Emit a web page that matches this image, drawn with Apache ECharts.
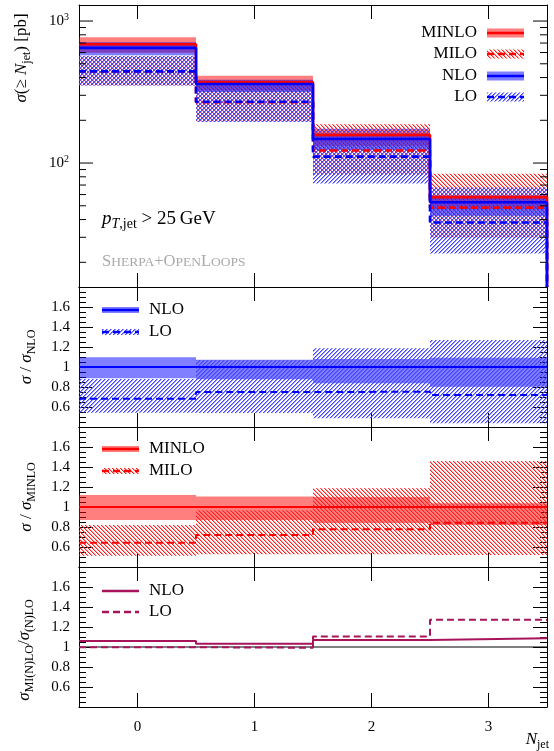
<!DOCTYPE html>
<html><head><meta charset="utf-8">
<script src="https://cdn.jsdelivr.net/npm/echarts@6/dist/echarts.min.js"></script>
<style>html,body{margin:0;padding:0;background:#fff}#c{width:554px;height:751px}</style>
</head><body><div id="c"></div>
<script>
// ---- data ----
const bins = [0, 1, 2, 3];
const binLabels = ['0', '1', '2', '3'];
const NLO      = [647, 360, 147.5, 52.9];
const NLO_up   = [710, 386, 159.3, 57.8];
const NLO_dn   = [574, 316, 123.5, 42.5];
const LO       = [442, 270, 111, 38.1];
const LO_up    = [569, 385, 175, 67.2];
const LO_dn    = [351, 194.4, 71.8, 23.1];
const MINLO    = [686, 372, 157.8, 57.5];
const MINLO_up = [768, 411, 173.6, 59.6];
const MINLO_dn = [597, 324, 132.6, 47.2];
const MILO     = [441, 268, 122.6, 48.5];
const MILO_up  = [562.5, 359.7, 187.3, 84];
const MILO_dn  = [352, 196, 83.2, 29.9];
const logMajor = [100, 1000];
const logMinor = [20, 30, 40, 50, 60, 70, 80, 90, 200, 300, 400, 500, 600, 700, 800, 900];
const ratioTicks = [0.6, 0.8, 1, 1.2, 1.4, 1.6];

// ---- helpers ----
const FONT = 'Liberation Serif';
const RED = '#ff0000', BLUE = '#0000ff', CRIM = '#a8145c';
const div = (a, b) => a.map((v, i) => v / b[i]);

function hatch(rgb, dir, a2) {
  const s = 4;
  const c = document.createElement('canvas'); c.width = s; c.height = s;
  const g = c.getContext('2d');
  for (let i = 0; i < s; i++) {
    const y = dir > 0 ? s - 1 - i : i;
    g.fillStyle = 'rgba(' + rgb + ',1)';
    g.fillRect(i, y, 1, 1);
    g.fillStyle = 'rgba(' + rgb + ',' + a2 + ')';
    g.fillRect((i + 1) % s, y, 1, 1);
  }
  return { image: c, repeat: 'repeat' };
}
const HATCH_BLUE = hatch('70,70,255', 1, 0.55);
const HATCH_RED = hatch('255,30,30', -1, 0.4);
const BAND_BLUE = 'rgba(0,0,255,0.5)';
const BAND_RED = 'rgba(255,0,0,0.5)';

function bandSeries(g, lo, hi, fill, z) {
  return {
    type: 'custom', xAxisIndex: 2 * g, yAxisIndex: 2 * g, z: z, silent: true, clip: true,
    data: bins.map((b, i) => [b, lo[i], hi[i]]),
    encode: { x: 0, y: [1, 2] },
    renderItem: (params, api) => {
      const x = api.value(0);
      const p0 = api.coord([x - 0.5, api.value(2)]);
      const p1 = api.coord([x + 0.5, api.value(1)]);
      return { type: 'rect', shape: { x: p0[0], y: p0[1], width: p1[0] - p0[0], height: p1[1] - p0[1] }, style: { fill: fill } };
    }
  };
}
function stepSeries(g, vals, color, width, dashed, z, dropTo) {
  const d = bins.map((b, i) => [b - 0.5, vals[i]]);
  d.push([bins[bins.length - 1] + 0.5, vals[vals.length - 1]]);
  if (dropTo != null) d.push([bins[bins.length - 1] + 0.5, dropTo]);
  return {
    type: 'line', step: 'end', xAxisIndex: 2 * g, yAxisIndex: 2 * g, data: d, symbol: 'none', silent: true, z: z,
    lineStyle: { color: color, width: width, type: dashed ? [7, 4] : 'solid', cap: 'butt' }
  };
}

const grids = [
  { left: 79, top: 5, width: 468, height: 282 },
  { left: 79, top: 287, width: 468, height: 140 },
  { left: 79, top: 427, width: 468, height: 140 },
  { left: 79, top: 567, width: 468, height: 140 }
];
const xAxes = [], yAxes = [];
grids.forEach((gr, g) => {
  ['bottom', 'top'].forEach(pos => {
    xAxes.push({
      type: 'value', gridIndex: g, min: -0.5, max: 3.5, position: pos,
      axisLine: { show: true, onZero: false, lineStyle: { color: '#000', width: 1 } },
      axisTick: { show: true, inside: true, length: 14, customValues: bins, lineStyle: { color: '#000', width: 1 } },
      axisLabel: {
        show: g === 3 && pos === 'bottom', customValues: bins, margin: 13,
        formatter: v => binLabels[bins.indexOf(Math.round(v))] || '',
        fontFamily: FONT, fontSize: 15, color: '#000'
      },
      splitLine: { show: false }, minorTick: { show: false }
    });
  });
  ['left', 'right'].forEach(pos => {
    if (g === 0) {
      yAxes.push({
        type: 'log', logBase: 10, gridIndex: g, min: 13.4, max: 1297, position: pos,
        axisLine: { show: true, onZero: false, lineStyle: { color: '#000', width: 1 } },
        axisTick: { show: false },
        axisLabel: {
          show: pos === 'left', showMinLabel: false, showMaxLabel: false, margin: 10,
          formatter: v => {
            const e = Math.log10(v);
            if (Math.abs(e - Math.round(e)) > 1e-6) return '';
            return '{b|10}{s|' + Math.round(e) + '}';
          },
          rich: {
            b: { fontFamily: FONT, fontSize: 15, color: '#000', lineHeight: 18 },
            s: { fontFamily: FONT, fontSize: 10, color: '#000', lineHeight: 10, verticalAlign: 'top' }
          }
        },
        splitLine: { show: false }
      });
    } else {
      yAxes.push({
        type: 'value', gridIndex: g, min: 0.4, max: 1.8, interval: 0.2, position: pos,
        axisLine: { show: true, onZero: false, lineStyle: { color: '#000', width: 1 } },
        axisTick: { show: true, inside: true, length: 14, lineStyle: { color: '#000', width: 1 } },
        minorTick: { show: true, splitNumber: 4, length: 7, lineStyle: { color: '#000', width: 1 } },
        axisLabel: {
          show: pos === 'left', showMinLabel: false, showMaxLabel: false, margin: 9,
          formatter: v => ratioTicks.some(t => Math.abs(t - v) < 1e-6) ? String(+v.toFixed(1)) : '',
          fontFamily: FONT, fontSize: 15, color: '#000'
        },
        splitLine: { show: false }
      });
    }
  });
});

const series = [];
// top panel
series.push(bandSeries(0, MINLO_dn, MINLO_up, BAND_RED, 1));
series.push(bandSeries(0, MILO_dn, MILO_up, HATCH_RED, 2));
series.push(bandSeries(0, NLO_dn, NLO_up, BAND_BLUE, 3));
series.push(bandSeries(0, LO_dn, LO_up, HATCH_BLUE, 4));
series.push(stepSeries(0, MINLO, RED, 2.6, false, 6, 13.4));
series.push(stepSeries(0, MILO, RED, 2.6, true, 7, 13.4));
series.push(stepSeries(0, NLO, BLUE, 2.6, false, 8, 13.4));
series.push(stepSeries(0, LO, BLUE, 2.6, true, 9, 13.4));
// log-axis ticks (major + minor) on both sides
series.push({
  type: 'custom', xAxisIndex: 0, yAxisIndex: 0, z: 20, silent: true,
  data: logMajor.map(v => [v, 14]).concat(logMinor.map(v => [v, 7])),
  encode: { y: 0 },
  renderItem: (params, api) => {
    const v = api.value(0), len = api.value(1);
    const l = api.coord([-0.5, v]), r = api.coord([3.5, v]);
    const st = { stroke: '#000', lineWidth: 1 };
    return { type: 'group', children: [
      { type: 'line', shape: { x1: l[0], y1: l[1], x2: l[0] + len, y2: l[1] }, style: st },
      { type: 'line', shape: { x1: r[0], y1: r[1], x2: r[0] - len, y2: r[1] }, style: st }
    ] };
  }
});
// ratio to NLO
series.push(bandSeries(1, div(NLO_dn, NLO), div(NLO_up, NLO), BAND_BLUE, 1));
series.push(bandSeries(1, div(LO_dn, NLO), div(LO_up, NLO), HATCH_BLUE, 2));
series.push(stepSeries(1, div(NLO, NLO), BLUE, 2, false, 6));
series.push(stepSeries(1, div(LO, NLO), BLUE, 2, true, 7));
// ratio to MINLO
series.push(bandSeries(2, div(MINLO_dn, MINLO), div(MINLO_up, MINLO), BAND_RED, 1));
series.push(bandSeries(2, div(MILO_dn, MINLO), div(MILO_up, MINLO), HATCH_RED, 2));
series.push(stepSeries(2, div(MINLO, MINLO), RED, 2, false, 6));
series.push(stepSeries(2, div(MILO, MINLO), RED, 2, true, 7));
// MI(N)LO / (N)LO
series.push({
  type: 'line', xAxisIndex: 6, yAxisIndex: 6, data: [[-0.5, 1], [3.5, 1]], symbol: 'none', silent: true, z: 3,
  lineStyle: { color: '#000', width: 1 }
});
series.push(stepSeries(3, div(MINLO, NLO), CRIM, 2, false, 6));
series.push(stepSeries(3, div(MILO, LO), CRIM, 2, true, 7));

// ---- text & legends ----
const base = { fontFamily: FONT, fontSize: 17, fill: '#000' };
const richMath = {
  i: { fontFamily: FONT, fontSize: 17, fontStyle: 'italic', lineHeight: 22 },
  n: { fontFamily: FONT, fontSize: 17, lineHeight: 22 },
  sub: { fontFamily: FONT, fontSize: 12, lineHeight: 12, verticalAlign: 'bottom' },
  subi: { fontFamily: FONT, fontSize: 12, fontStyle: 'italic', lineHeight: 12, verticalAlign: 'bottom' }
};
const richBig = {
  i: { fontFamily: FONT, fontSize: 19, fontStyle: 'italic', lineHeight: 24 },
  n: { fontFamily: FONT, fontSize: 19, lineHeight: 24 },
  sub: { fontFamily: FONT, fontSize: 14, lineHeight: 14, verticalAlign: 'bottom' },
  subi: { fontFamily: FONT, fontSize: 14, fontStyle: 'italic', lineHeight: 14, verticalAlign: 'bottom' }
};
function txt(x, y, text, opts) {
  return Object.assign({
    type: 'text', x: x, y: y, silent: true, z: 50,
    style: Object.assign({ text: text, rich: richMath, align: 'left', verticalAlign: 'middle' }, base, (opts && opts.style) || {})
  }, (opts && opts.el) || {});
}
function legendSym(x0, x1, y, color, bandFill, bandH, lineW, dashed) {
  const out = [];
  if (bandFill) out.push({ type: 'rect', silent: true, z: 50, shape: { x: x0, y: y - bandH / 2, width: x1 - x0, height: bandH }, style: { fill: bandFill } });
  out.push({ type: 'line', silent: true, z: 51, shape: { x1: x0, y1: y, x2: x1, y2: y }, style: { stroke: color, lineWidth: lineW, lineDash: dashed ? [7, 4] : null } });
  return out;
}
const rot = { rotation: Math.PI / 2 };
let graphics = [];
// top legend
const topLeg = [
  ['MINLO', RED, BAND_RED, false],
  ['MILO', RED, HATCH_RED, true],
  ['NLO', BLUE, BAND_BLUE, false],
  ['LO', BLUE, HATCH_BLUE, true]
];
const topLegY = [33, 54, 76, 97];
topLeg.forEach((e, k) => {
  graphics.push(txt(477, topLegY[k], e[0], { style: { align: 'right' } }));
  graphics = graphics.concat(legendSym(487, 524, topLegY[k], e[1], e[2], 9, 2.6, e[3]));
});
// ratio legends
const ratioLeg = [
  [[310, 'NLO', BLUE, BAND_BLUE, false], [332, 'LO', BLUE, HATCH_BLUE, true]],
  [[449, 'MINLO', RED, BAND_RED, false], [471, 'MILO', RED, HATCH_RED, true]],
  [[591, 'NLO', CRIM, null, false], [612, 'LO', CRIM, null, true]]
];
ratioLeg.forEach(panel => panel.forEach(e => {
  graphics.push(txt(149, e[0], e[1]));
  graphics = graphics.concat(legendSym(102, 139, e[0], e[2], e[3], 6, 2.4, e[4]));
}));
// axis titles
graphics.push(txt(22, 58, '{i|σ}{n|(≥ }{i|N}{sub|jet}{n|) [pb]}', { style: { align: 'center' }, el: rot }));
graphics.push(txt(27, 357, '{i|σ}{n| / }{i|σ}{sub|NLO}', { style: { align: 'center' }, el: rot }));
graphics.push(txt(27, 497, '{i|σ}{n| / }{i|σ}{sub|MINLO}', { style: { align: 'center' }, el: rot }));
graphics.push(txt(25, 650, '{i|σ}{sub|MI(N)LO}{n|/}{i|σ}{sub|(N)LO}', { style: { align: 'center' }, el: rot }));
graphics.push(txt(549, 740, '{i|N}{sub|jet}', { style: { align: 'right' } }));
// annotations
graphics.push(txt(102, 219, '{i|p}{subi|T}{sub|,jet}{n| > 25\u2009GeV}', { style: { rich: richBig } }));
graphics.push(txt(102, 262, '{a|S}{b|HERPA}{a|+O}{b|PEN}{a|L}{b|OOPS}', {
  style: {
    fill: '#aaaaaa',
    rich: {
      a: { fontFamily: FONT, fontSize: 16.5, fill: '#aaaaaa', color: '#aaaaaa' },
      b: { fontFamily: FONT, fontSize: 13.5, fill: '#aaaaaa', color: '#aaaaaa' }
    }
  }
}));

const chart = echarts.init(document.getElementById('c'), null, { renderer: 'canvas' });
chart.setOption({
  animation: false,
  backgroundColor: '#fff',
  grid: grids,
  xAxis: xAxes,
  yAxis: yAxes,
  series: series,
  graphic: { elements: graphics }
});
</script>
</body></html>
